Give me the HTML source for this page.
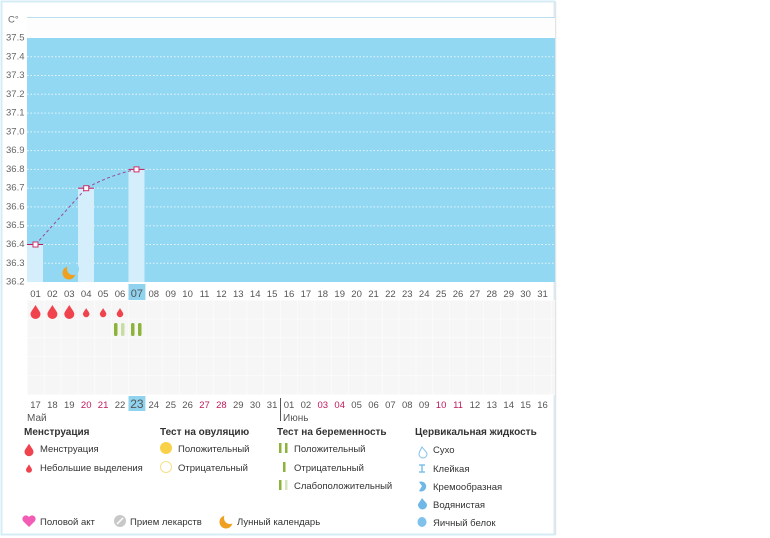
<!DOCTYPE html>
<html><head><meta charset="utf-8"><style>
html,body{margin:0;padding:0;background:#fff;width:770px;height:538px;overflow:hidden}
svg{display:block;font-family:"Liberation Sans","DejaVu Sans",sans-serif}
</style></head><body>
<svg width="770" height="538" viewBox="0 0 770 538" xmlns="http://www.w3.org/2000/svg">
<defs>
<pattern id="g" x="27" y="300" width="16.9" height="18.8" patternUnits="userSpaceOnUse">
<rect width="16.9" height="18.8" fill="#f6f6f6"/>
<path d="M0 0H16.9M0 0V18.8" stroke="#fff" stroke-width="1"/>
</pattern>
<path id="drop" d="M0 -6 C3 -1 5 1 5 3 A5 5 0 0 1 -5 3 C-5 1 -3 -1 0 -6Z"/>
</defs>
<rect x="1.5" y="1.5" width="553" height="533" fill="#fff" stroke="#d4ecf6" stroke-width="2"/>
<line x1="555.5" y1="2" x2="555.5" y2="535" stroke="#e4e4e4" stroke-width="1.5"/>
<line x1="27" y1="17.5" x2="555" y2="17.5" stroke="#b9dff0"/>
<rect x="27" y="18" width="528" height="20" fill="#fcfdfc"/>
<rect x="27" y="38" width="528" height="244" fill="#92d8f2"/>
<g stroke="#e6f6fc" stroke-dasharray="1.5 2" stroke-width="1">
<line x1="27" y1="56.8" x2="555" y2="56.8"/><line x1="27" y1="75.5" x2="555" y2="75.5"/>
<line x1="27" y1="94.3" x2="555" y2="94.3"/><line x1="27" y1="113.1" x2="555" y2="113.1"/>
<line x1="27" y1="131.9" x2="555" y2="131.9"/><line x1="27" y1="150.6" x2="555" y2="150.6"/>
<line x1="27" y1="169.4" x2="555" y2="169.4"/><line x1="27" y1="188.2" x2="555" y2="188.2"/>
<line x1="27" y1="206.9" x2="555" y2="206.9"/><line x1="27" y1="225.7" x2="555" y2="225.7"/>
<line x1="27" y1="244.5" x2="555" y2="244.5"/><line x1="27" y1="263.3" x2="555" y2="263.3"/>
</g>
<g fill="#d4effb">
<rect x="27" y="244.5" width="16" height="37.5"/>
<rect x="78" y="188.2" width="16" height="93.8"/>
<rect x="128.5" y="169.4" width="16" height="112.6"/>
</g>
<g stroke="#c2185b" stroke-width="1">
<line x1="27" y1="244.5" x2="43" y2="244.5"/>
<line x1="78" y1="188.2" x2="94" y2="188.2"/>
<line x1="128.5" y1="169.4" x2="144.5" y2="169.4"/>
</g>
<path d="M35.5 244.5 L86.2 188.2 Q110 175 136.5 169.4" fill="none" stroke="#9b4a9a" stroke-dasharray="3 2.5" stroke-width="1"/>
<g fill="#fff" stroke="#d0306a" stroke-width="1">
<rect x="33" y="242" width="5" height="5"/><rect x="83.7" y="185.7" width="5" height="5"/><rect x="134" y="166.9" width="5" height="5"/>
</g>
<circle cx="69" cy="273" r="6.5" fill="#f0a020"/><circle cx="73" cy="269" r="6" fill="#92d8f2"/>
<g font-size="9.5" fill="#666" dominant-baseline="middle">
<text x="8" y="20">C°</text>
<text x="6" y="38">37.5</text><text x="6" y="56.8">37.4</text><text x="6" y="75.5">37.3</text>
<text x="6" y="94.3">37.2</text><text x="6" y="113.1">37.1</text><text x="6" y="131.9">37.0</text>
<text x="6" y="150.6">36.9</text><text x="6" y="169.4">36.8</text><text x="6" y="188.2">36.7</text>
<text x="6" y="206.9">36.6</text><text x="6" y="225.7">36.5</text><text x="6" y="244.5">36.4</text>
<text x="6" y="263.3">36.3</text><text x="6" y="282">36.2</text>
</g>
<rect x="27" y="300" width="528" height="95" fill="url(#g)"/>
<rect x="128.5" y="284" width="16.9" height="16" fill="#8fd3ef"/>
<rect x="128.5" y="396" width="16.9" height="15" fill="#8fd3ef"/>
<g font-size="9.5" fill="#555" text-anchor="middle">
<text x="35.5" y="297">01</text><text x="52.4" y="297">02</text><text x="69.3" y="297">03</text><text x="86.2" y="297">04</text><text x="103.1" y="297">05</text><text x="120" y="297">06</text><text x="136.9" y="297" font-size="11">07</text><text x="153.8" y="297">08</text><text x="170.7" y="297">09</text><text x="187.6" y="297">10</text><text x="204.5" y="297">11</text><text x="221.4" y="297">12</text><text x="238.3" y="297">13</text><text x="255.2" y="297">14</text><text x="272.1" y="297">15</text><text x="289" y="297">16</text><text x="305.9" y="297">17</text><text x="322.8" y="297">18</text><text x="339.7" y="297">19</text><text x="356.6" y="297">20</text><text x="373.5" y="297">21</text><text x="390.4" y="297">22</text><text x="407.3" y="297">23</text><text x="424.2" y="297">24</text><text x="441.1" y="297">25</text><text x="458" y="297">26</text><text x="474.9" y="297">27</text><text x="491.8" y="297">28</text><text x="508.7" y="297">29</text><text x="525.6" y="297">30</text><text x="542.5" y="297">31</text>
</g>
<g font-size="9.5" fill="#555" text-anchor="middle">
<text x="35.5" y="408">17</text><text x="52.4" y="408">18</text><text x="69.3" y="408">19</text><text x="86.2" y="408" fill="#c2185b">20</text><text x="103.1" y="408" fill="#c2185b">21</text><text x="120" y="408">22</text><text x="136.9" y="408" font-size="12">23</text><text x="153.8" y="408">24</text><text x="170.7" y="408">25</text><text x="187.6" y="408">26</text><text x="204.5" y="408" fill="#c2185b">27</text><text x="221.4" y="408" fill="#c2185b">28</text><text x="238.3" y="408">29</text><text x="255.2" y="408">30</text><text x="272.1" y="408">31</text><text x="289" y="408">01</text><text x="305.9" y="408">02</text><text x="322.8" y="408" fill="#c2185b">03</text><text x="339.7" y="408" fill="#c2185b">04</text><text x="356.6" y="408">05</text><text x="373.5" y="408">06</text><text x="390.4" y="408">07</text><text x="407.3" y="408">08</text><text x="424.2" y="408">09</text><text x="441.1" y="408" fill="#c2185b">10</text><text x="458" y="408" fill="#c2185b">11</text><text x="474.9" y="408">12</text><text x="491.8" y="408">13</text><text x="508.7" y="408">14</text><text x="525.6" y="408">15</text><text x="542.5" y="408">16</text>
</g>
<line x1="280.5" y1="398" x2="280.5" y2="421" stroke="#555"/>
<g font-size="10" fill="#555"><text x="27" y="421">Май</text><text x="283" y="421">Июнь</text></g>
<g fill="#f0434e">
<use href="#drop" transform="translate(35.5,311)"/>
<use href="#drop" transform="translate(52.4,311)"/>
<use href="#drop" transform="translate(69.3,311)"/>
<use href="#drop" transform="translate(86.2,312) scale(0.65)"/>
<use href="#drop" transform="translate(103.1,312) scale(0.65)"/>
<use href="#drop" transform="translate(120,312) scale(0.65)"/>
</g>
<g>
<rect x="114" y="323" width="3.5" height="13" rx="1.5" fill="#8db33a"/>
<rect x="121" y="323" width="3.5" height="13" rx="1.5" fill="#c9dca4"/>
<rect x="131" y="323" width="3.5" height="13" rx="1.5" fill="#8db33a"/>
<rect x="138" y="323" width="3.5" height="13" rx="1.5" fill="#8db33a"/>
</g>
<g font-size="10" font-weight="bold" fill="#333">
<text x="24" y="435">Менструация</text><text x="160" y="435">Тест на овуляцию</text>
<text x="277" y="435">Тест на беременность</text><text x="415" y="435">Цервикальная жидкость</text>
</g>
<g font-size="9.5" fill="#333">
<text x="40" y="452">Менструация</text><text x="40" y="471">Небольшие выделения</text>
<text x="178" y="452">Положительный</text><text x="178" y="471">Отрицательный</text>
<text x="294" y="452">Положительный</text><text x="294" y="471">Отрицательный</text><text x="294" y="489">Слабоположительный</text>
<text x="433" y="453">Сухо</text><text x="433" y="472">Клейкая</text><text x="433" y="490">Кремообразная</text><text x="433" y="508">Водянистая</text><text x="433" y="526">Яичный белок</text>
<text x="40" y="525">Половой акт</text><text x="130" y="525">Прием лекарств</text><text x="237" y="525">Лунный календарь</text>
</g>
<g fill="#f0434e">
<use href="#drop" transform="translate(29,449) scale(0.9)"/>
<use href="#drop" transform="translate(29,468) scale(0.6)"/>
</g>
<circle cx="166" cy="448" r="6" fill="#f9d148"/>
<circle cx="166" cy="467" r="5.5" fill="#fff" stroke="#f5e08a"/>
<g fill="#8db33a">
<rect x="279" y="443" width="2.5" height="10"/><rect x="285" y="443" width="2.5" height="10"/>
<rect x="283" y="462" width="2.5" height="10"/>
<rect x="279" y="480" width="2.5" height="10"/><rect x="285" y="480" width="2.5" height="10" fill="#d8e4c0"/>
</g>
<path d="M422 447 C425 451 427 452 427 454 A4 4 0 0 1 419 454 C419 452 420 451 422 447Z" fill="none" stroke="#7fc1ea"/>
<path d="M419 465h6M422 465v7M419 472h6" stroke="#7fc1ea" stroke-width="1.5"/>
<path d="M419 482 A5 5 0 1 1 419 491 L422 486Z" fill="#6fb7e6"/>
<path d="M422 498 C425 502 427 503 427 505 A4 4 0 0 1 418 505 C418 503 420 502 422 498Z" fill="#6fb7e6"/>
<ellipse cx="422" cy="522" rx="4.5" ry="5" fill="#7fc1ea"/>
<path d="M29 527 L23 521 A3.2 3.2 0 0 1 29 517 A3.2 3.2 0 0 1 35 521Z" fill="#f25cb5"/>
<circle cx="120" cy="521" r="6" fill="#c8c8c8"/><line x1="117" y1="524" x2="123" y2="518" stroke="#fff" stroke-width="1.5"/>
<circle cx="226" cy="522" r="6.5" fill="#f0a020"/><circle cx="230" cy="518" r="6" fill="#fff"/>
</svg>
</body></html>
